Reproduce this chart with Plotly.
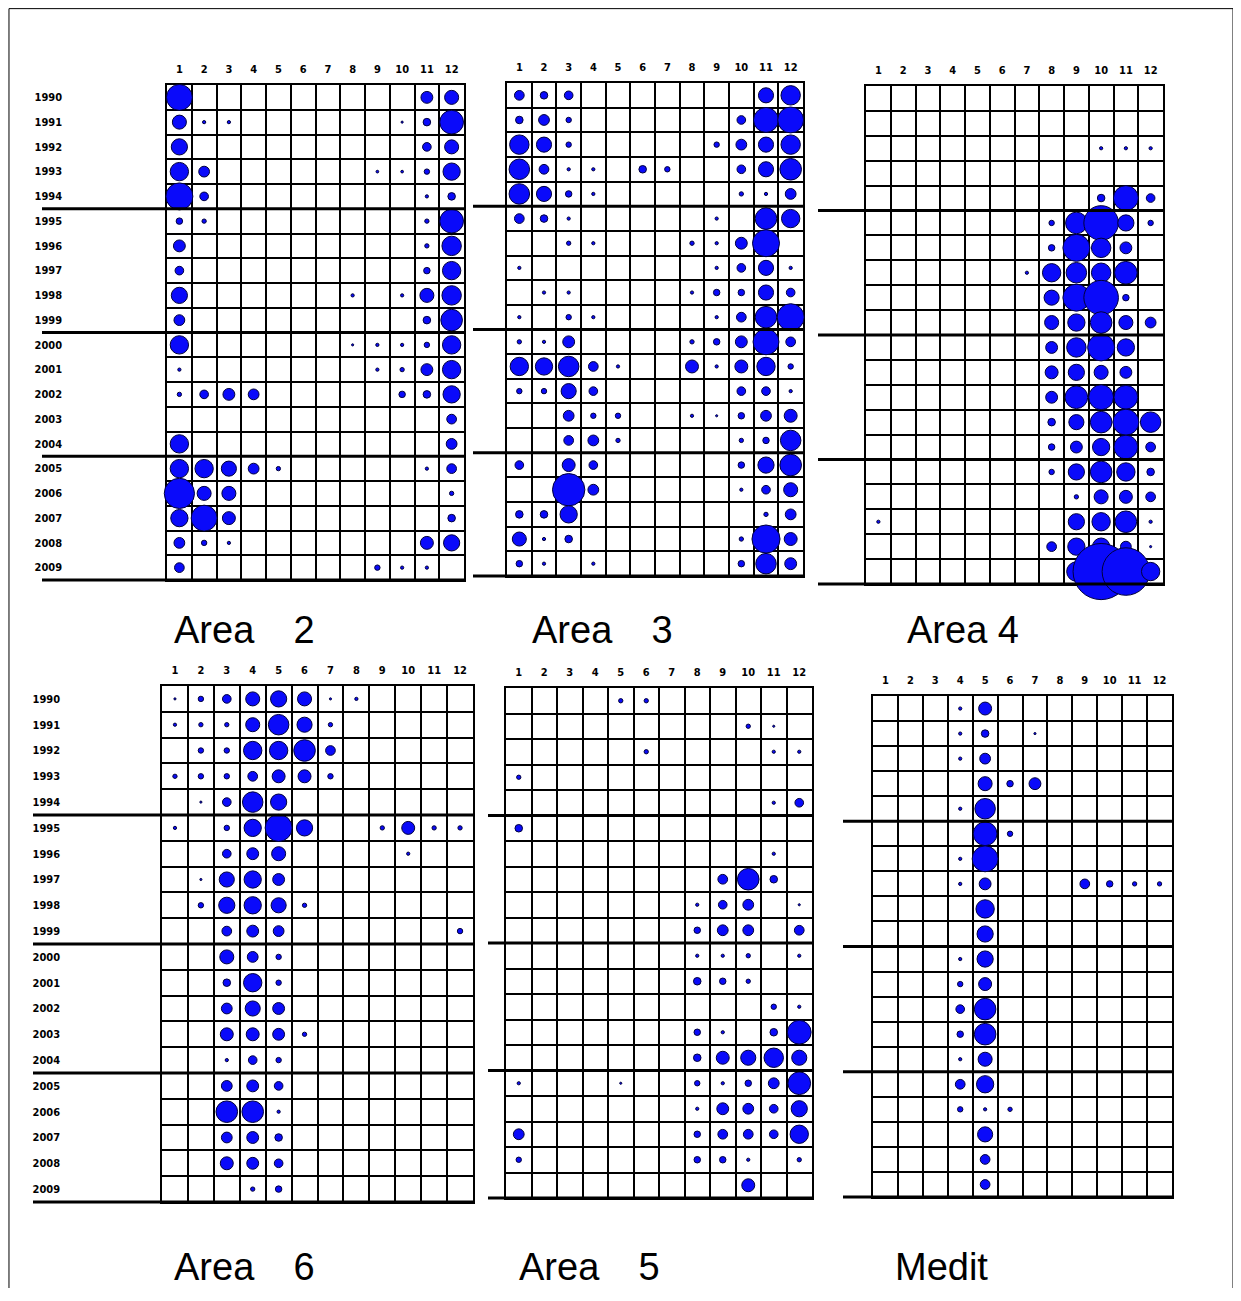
import plotly.graph_objects as go

# ---------------- data ----------------
MONTHS = list(range(1, 13))
MONTH_LABELS = [str(m) for m in MONTHS]
YEARS = list(range(1990, 2010))
YEAR_LABELS = [str(y) for y in YEARS]

# relative abundance index, rows = years 1990..2009, cols = months 1..12
AREA_2 = [
    [24, 0, 0, 0, 0, 0, 0, 0, 0, 0, 11, 13],
    [13, 3, 3, 0, 0, 0, 0, 0, 0, 2, 7, 22],
    [15, 0, 0, 0, 0, 0, 0, 0, 0, 0, 8, 13],
    [17, 10, 0, 0, 0, 0, 0, 0, 2.5, 2.5, 5, 16],
    [25, 8, 0, 0, 0, 0, 0, 0, 0, 0, 3, 7],
    [6, 4, 0, 0, 0, 0, 0, 0, 0, 0, 4, 22],
    [11, 0, 0, 0, 0, 0, 0, 0, 0, 0, 4, 18],
    [8, 0, 0, 0, 0, 0, 0, 0, 0, 0, 6, 17],
    [15, 0, 0, 0, 0, 0, 0, 3, 0, 3, 13, 18],
    [10, 0, 0, 0, 0, 0, 0, 0, 0, 0, 7, 20],
    [17, 0, 0, 0, 0, 0, 0, 2, 3, 3, 5, 17],
    [3, 0, 0, 0, 0, 0, 0, 0, 3, 4, 11, 17],
    [4, 8, 11, 10, 0, 0, 0, 0, 0, 6, 7, 16],
    [0, 0, 0, 0, 0, 0, 0, 0, 0, 0, 0, 9],
    [17, 0, 0, 0, 0, 0, 0, 0, 0, 0, 0, 10],
    [17, 17, 14, 10, 4, 0, 0, 0, 0, 0, 3, 9],
    [28, 13, 13, 0, 0, 0, 0, 0, 0, 0, 0, 4],
    [16, 24, 12, 0, 0, 0, 0, 0, 0, 0, 0, 7],
    [10, 5, 3, 0, 0, 0, 0, 0, 0, 0, 12, 15],
    [9, 0, 0, 0, 0, 0, 0, 0, 5, 3, 3, 0],
]

AREA_3 = [
    [9, 7, 8, 0, 0, 0, 0, 0, 0, 0, 14, 18],
    [7, 10, 5, 0, 0, 0, 0, 0, 0, 8, 23, 24],
    [18, 14, 5, 0, 0, 0, 0, 0, 5, 10, 14, 18],
    [19, 9, 3, 3, 0, 7, 5, 0, 0, 8, 14, 20],
    [19, 14, 6, 3, 0, 0, 0, 0, 0, 4, 3, 10],
    [9, 7, 3, 0, 0, 0, 0, 0, 3, 0, 20, 17],
    [0, 0, 4, 3, 0, 0, 0, 4, 3, 11, 25, 0],
    [3, 0, 0, 0, 0, 0, 0, 0, 3, 8, 14, 3],
    [0, 3, 3, 0, 0, 0, 0, 3, 6, 6, 14, 8],
    [3, 0, 5, 3, 0, 0, 0, 0, 3, 9, 20, 25],
    [4, 3, 11, 0, 0, 0, 0, 4, 6, 11, 24, 9],
    [17, 16, 19, 9, 3, 0, 0, 12, 3, 12, 17, 5],
    [5, 5, 14, 8, 0, 0, 0, 0, 0, 8, 8, 3],
    [0, 0, 10, 5, 5, 0, 0, 3, 2, 6, 10, 12],
    [0, 0, 9, 10, 4, 0, 0, 0, 0, 4, 6, 19],
    [8, 0, 12, 8, 0, 0, 0, 0, 0, 6, 15, 20],
    [0, 0, 30, 10, 0, 0, 0, 0, 0, 3, 8, 13],
    [7, 7, 16, 0, 0, 0, 0, 0, 0, 0, 4, 10],
    [13, 3, 7, 0, 0, 0, 0, 0, 0, 4, 26, 12],
    [6, 3, 0, 3, 0, 0, 0, 0, 0, 6, 19, 11],
]

AREA_4 = [
    [0, 0, 0, 0, 0, 0, 0, 0, 0, 0, 0, 0],
    [0, 0, 0, 0, 0, 0, 0, 0, 0, 0, 0, 0],
    [0, 0, 0, 0, 0, 0, 0, 0, 0, 3, 3, 3],
    [0, 0, 0, 0, 0, 0, 0, 0, 0, 0, 0, 0],
    [0, 0, 0, 0, 0, 0, 0, 0, 0, 7, 23, 8],
    [0, 0, 0, 0, 0, 0, 0, 5, 20, 32, 15, 5],
    [0, 0, 0, 0, 0, 0, 0, 6, 25, 18, 11, 0],
    [0, 0, 0, 0, 0, 0, 3, 17, 19, 18, 21, 0],
    [0, 0, 0, 0, 0, 0, 0, 14, 25, 32, 6, 0],
    [0, 0, 0, 0, 0, 0, 0, 13, 16, 20, 13, 10],
    [0, 0, 0, 0, 0, 0, 0, 11, 18, 25, 16, 0],
    [0, 0, 0, 0, 0, 0, 0, 12, 15, 13, 11, 0],
    [0, 0, 0, 0, 0, 0, 0, 11, 21, 23, 22, 0],
    [0, 0, 0, 0, 0, 0, 0, 7, 14, 20, 24, 19],
    [0, 0, 0, 0, 0, 0, 0, 6, 11, 16, 22, 9],
    [0, 0, 0, 0, 0, 0, 0, 5, 15, 20, 17, 7],
    [0, 0, 0, 0, 0, 0, 0, 0, 4, 13, 12, 9],
    [3, 0, 0, 0, 0, 0, 0, 0, 15, 17, 20, 3],
    [0, 0, 0, 0, 0, 0, 0, 9, 16, 16, 10, 2],
    [0, 0, 0, 0, 0, 0, 0, 0, 18, 52, 44, 17],
]

AREA_6 = [
    [2, 5, 8, 13, 15, 13, 2, 3, 0, 0, 0, 0],
    [3, 4, 4, 13, 19, 14, 4, 0, 0, 0, 0, 0],
    [0, 5, 5, 17, 17, 20, 9, 0, 0, 0, 0, 0],
    [4, 5, 5, 9, 12, 12, 5, 0, 0, 0, 0, 0],
    [0, 2, 8, 19, 15, 0, 0, 0, 0, 0, 0, 0],
    [3, 0, 5, 16, 25, 15, 0, 0, 4, 12, 4, 4],
    [0, 0, 8, 11, 13, 0, 0, 0, 0, 3, 0, 0],
    [0, 2, 14, 16, 11, 0, 0, 0, 0, 0, 0, 0],
    [0, 5, 15, 16, 14, 4, 0, 0, 0, 0, 0, 0],
    [0, 0, 9, 11, 10, 0, 0, 0, 0, 0, 0, 5],
    [0, 0, 13, 10, 5, 0, 0, 0, 0, 0, 0, 0],
    [0, 0, 7, 17, 5, 0, 0, 0, 0, 0, 0, 0],
    [0, 0, 10, 14, 11, 0, 0, 0, 0, 0, 0, 0],
    [0, 0, 12, 12, 11, 4, 0, 0, 0, 0, 0, 0],
    [0, 0, 3, 8, 5, 0, 0, 0, 0, 0, 0, 0],
    [0, 0, 10, 11, 8, 0, 0, 0, 0, 0, 0, 0],
    [0, 0, 20, 20, 3, 0, 0, 0, 0, 0, 0, 0],
    [0, 0, 10, 11, 7, 0, 0, 0, 0, 0, 0, 0],
    [0, 0, 12, 11, 8, 0, 0, 0, 0, 0, 0, 0],
    [0, 0, 0, 4, 6, 0, 0, 0, 0, 0, 0, 0],
]

AREA_5 = [
    [0, 0, 0, 0, 4, 4, 0, 0, 0, 0, 0, 0],
    [0, 0, 0, 0, 0, 0, 0, 0, 0, 4, 2, 0],
    [0, 0, 0, 0, 0, 4, 0, 0, 0, 0, 3, 3],
    [4, 0, 0, 0, 0, 0, 0, 0, 0, 0, 0, 0],
    [0, 0, 0, 0, 0, 0, 0, 0, 0, 0, 3, 8],
    [7, 0, 0, 0, 0, 0, 0, 0, 0, 0, 0, 0],
    [0, 0, 0, 0, 0, 0, 0, 0, 0, 0, 3, 0],
    [0, 0, 0, 0, 0, 0, 0, 0, 9, 20, 7, 0],
    [0, 0, 0, 0, 0, 0, 0, 3, 8, 10, 0, 2],
    [0, 0, 0, 0, 0, 0, 0, 6, 10, 10, 0, 9],
    [0, 0, 0, 0, 0, 0, 0, 3, 3, 4, 0, 3],
    [0, 0, 0, 0, 0, 0, 0, 7, 6, 4, 0, 0],
    [0, 0, 0, 0, 0, 0, 0, 0, 0, 0, 5, 3],
    [0, 0, 0, 0, 0, 0, 0, 6, 3, 0, 7, 22],
    [0, 0, 0, 0, 0, 0, 0, 7, 12, 14, 18, 14],
    [3, 0, 0, 0, 2, 0, 0, 5, 3, 6, 10, 21],
    [0, 0, 0, 0, 0, 0, 0, 3, 11, 10, 8, 15],
    [10, 0, 0, 0, 0, 0, 0, 6, 9, 9, 8, 17],
    [5, 0, 0, 0, 0, 0, 0, 6, 6, 3, 0, 4],
    [0, 0, 0, 0, 0, 0, 0, 0, 0, 12, 0, 0],
]

MEDIT = [
    [0, 0, 0, 3, 12, 0, 0, 0, 0, 0, 0, 0],
    [0, 0, 0, 3, 7, 0, 2, 0, 0, 0, 0, 0],
    [0, 0, 0, 3, 10, 0, 0, 0, 0, 0, 0, 0],
    [0, 0, 0, 0, 13, 6, 11, 0, 0, 0, 0, 0],
    [0, 0, 0, 3, 19, 0, 0, 0, 0, 0, 0, 0],
    [0, 0, 0, 0, 22, 5, 0, 0, 0, 0, 0, 0],
    [0, 0, 0, 3, 24, 0, 0, 0, 0, 0, 0, 0],
    [0, 0, 0, 3, 11, 0, 0, 0, 9, 6, 4, 4],
    [0, 0, 0, 0, 17, 0, 0, 0, 0, 0, 0, 0],
    [0, 0, 0, 0, 15, 0, 0, 0, 0, 0, 0, 0],
    [0, 0, 0, 3, 15, 0, 0, 0, 0, 0, 0, 0],
    [0, 0, 0, 5, 12, 0, 0, 0, 0, 0, 0, 0],
    [0, 0, 0, 8, 20, 0, 0, 0, 0, 0, 0, 0],
    [0, 0, 0, 6, 20, 0, 0, 0, 0, 0, 0, 0],
    [0, 0, 0, 3, 13, 0, 0, 0, 0, 0, 0, 0],
    [0, 0, 0, 9, 16, 0, 0, 0, 0, 0, 0, 0],
    [0, 0, 0, 5, 3, 4, 0, 0, 0, 0, 0, 0],
    [0, 0, 0, 0, 14, 0, 0, 0, 0, 0, 0, 0],
    [0, 0, 0, 0, 9, 0, 0, 0, 0, 0, 0, 0],
    [0, 0, 0, 0, 9, 0, 0, 0, 0, 0, 0, 0],
]

SP3 = "\u00a0\u00a0\u00a0\u2009"
PANEL_TITLES = ["Area" + SP3 + "2", "Area" + SP3 + "3", "Area\u00a04",
                "Area" + SP3 + "6", "Area" + SP3 + "5", "Medit"]
PANEL_DATA = [AREA_2, AREA_3, AREA_4, AREA_6, AREA_5, MEDIT]
SEPARATOR_YEARS = [1994.5, 1999.5, 2004.5, 2009.5]

# ---------------- layout (page pixels) ----------------
W, H = 1225, 1280
OFF = 8  # default body margin of the html page


def fx(x):
    return (x - OFF) / W


def fy(y):
    return 1 - (y - OFF) / H


# grid left, right, top, bottom, separator-left, show-years, ylabel ticklen, title x, title y
LAYOUT = [
    (167, 464, 85, 580, 42, True, 101, 172, 630),
    (507, 803, 83, 576, 473, False, 0, 530, 630),
    (866, 1163, 86, 584, 818, False, 0, 905, 630),
    (162, 473, 686, 1202, 33, True, 98, 172, 1267),
    (506, 812, 688, 1198, 488, False, 0, 517, 1267),
    (873, 1172, 696, 1197, 843, False, 0, 893, 1267),
]

SIZE_SCALE = 1.08
BUBBLE_COLOR = "rgb(10,10,250)"
EDGE_COLOR = "rgb(0,0,60)"
TICK_FONT = dict(family="Liberation Sans Narrow, DejaVu Sans Condensed, Arial Narrow, sans-serif",
                 size=11, color="black", weight="bold")

fig = go.Figure()
shapes = []
annotations = []

for i, (data, lay, title) in enumerate(zip(PANEL_DATA, LAYOUT, PANEL_TITLES)):
    gl, gr, gt, gb, sepl, show_years, ylen, tx, ty = lay
    n = "" if i == 0 else str(i + 1)
    xs, ys, ss = [], [], []
    for r, year in enumerate(YEARS):
        for c, month in enumerate(MONTHS):
            v = data[r][c]
            if v > 0:
                xs.append(month)
                ys.append(year)
                ss.append(v * SIZE_SCALE)
    fig.add_trace(go.Scatter(
        x=xs, y=ys, mode="markers", xaxis="x" + n, yaxis="y" + n,
        cliponaxis=False, showlegend=False, hoverinfo="skip",
        marker=dict(size=ss, sizemode="diameter", color=BUBBLE_COLOR,
                    line=dict(color=EDGE_COLOR, width=1), opacity=1),
    ))
    fig.layout["xaxis" + n] = dict(
        domain=[fx(gl), fx(gr)], range=[0.5, 12.5], anchor="y" + n, side="top",
        tickmode="array", tickvals=MONTHS, ticktext=MONTH_LABELS, tickfont=TICK_FONT,
        ticks="outside", ticklen=6, tickcolor="rgba(0,0,0,0)",
        showgrid=False, zeroline=False, showline=True, mirror=True,
        linecolor="black", linewidth=1.5, layer="below traces",
        minor=dict(tickmode="array", tickvals=[m + 0.5 for m in range(0, 13)],
                   showgrid=True, gridcolor="black", gridwidth=1.6, ticks=""),
        fixedrange=True,
    )
    y_lo, y_hi = YEARS[0] - 0.5, YEARS[-1] + 0.5
    fig.layout["yaxis" + n] = dict(
        domain=[fy(gb), fy(gt)], range=[y_hi, y_lo], anchor="x" + n,
        tickmode="array", tickvals=YEARS, ticktext=YEAR_LABELS, tickfont=TICK_FONT,
        showticklabels=show_years,
        ticks="outside" if show_years else "", ticklen=max(ylen, 1), tickcolor="rgba(0,0,0,0)",
        showgrid=False, zeroline=False, showline=True, mirror=True,
        linecolor="black", linewidth=1.5, layer="below traces",
        minor=dict(tickmode="array", tickvals=[y_lo + k for k in range(0, 21)],
                   showgrid=True, gridcolor="black", gridwidth=1.6, ticks=""),
        fixedrange=True,
    )
    # thick separators every five years (paper coords so the edge line is not clipped)
    for sy in SEPARATOR_YEARS:
        ypix = gt + (sy - y_lo) / (y_hi - y_lo) * (gb - gt)
        shapes.append(dict(type="line", xref="paper", yref="paper",
                           x0=fx(sepl), x1=fx(gr + 1), y0=fy(ypix), y1=fy(ypix),
                           line=dict(color="black", width=3)))
    annotations.append(dict(text=title, xref="paper", yref="paper", x=fx(tx), y=fy(ty),
                            xanchor="left", yanchor="middle", showarrow=False,
                            font=dict(family="Liberation Sans, Arial, sans-serif",
                                      size=38, color="black")))

# outer frame
shapes.append(dict(type="rect", xref="paper", yref="paper", x0=0.0008, x1=fx(1233),
                   y0=-0.05, y1=0.9995, line=dict(color="black", width=1)))

fig.update_layout(
    width=W, height=H, margin=dict(l=0, r=0, t=0, b=0),
    paper_bgcolor="white", plot_bgcolor="white",
    shapes=shapes, annotations=annotations, showlegend=False,
)

fig.write_html("out.html")
